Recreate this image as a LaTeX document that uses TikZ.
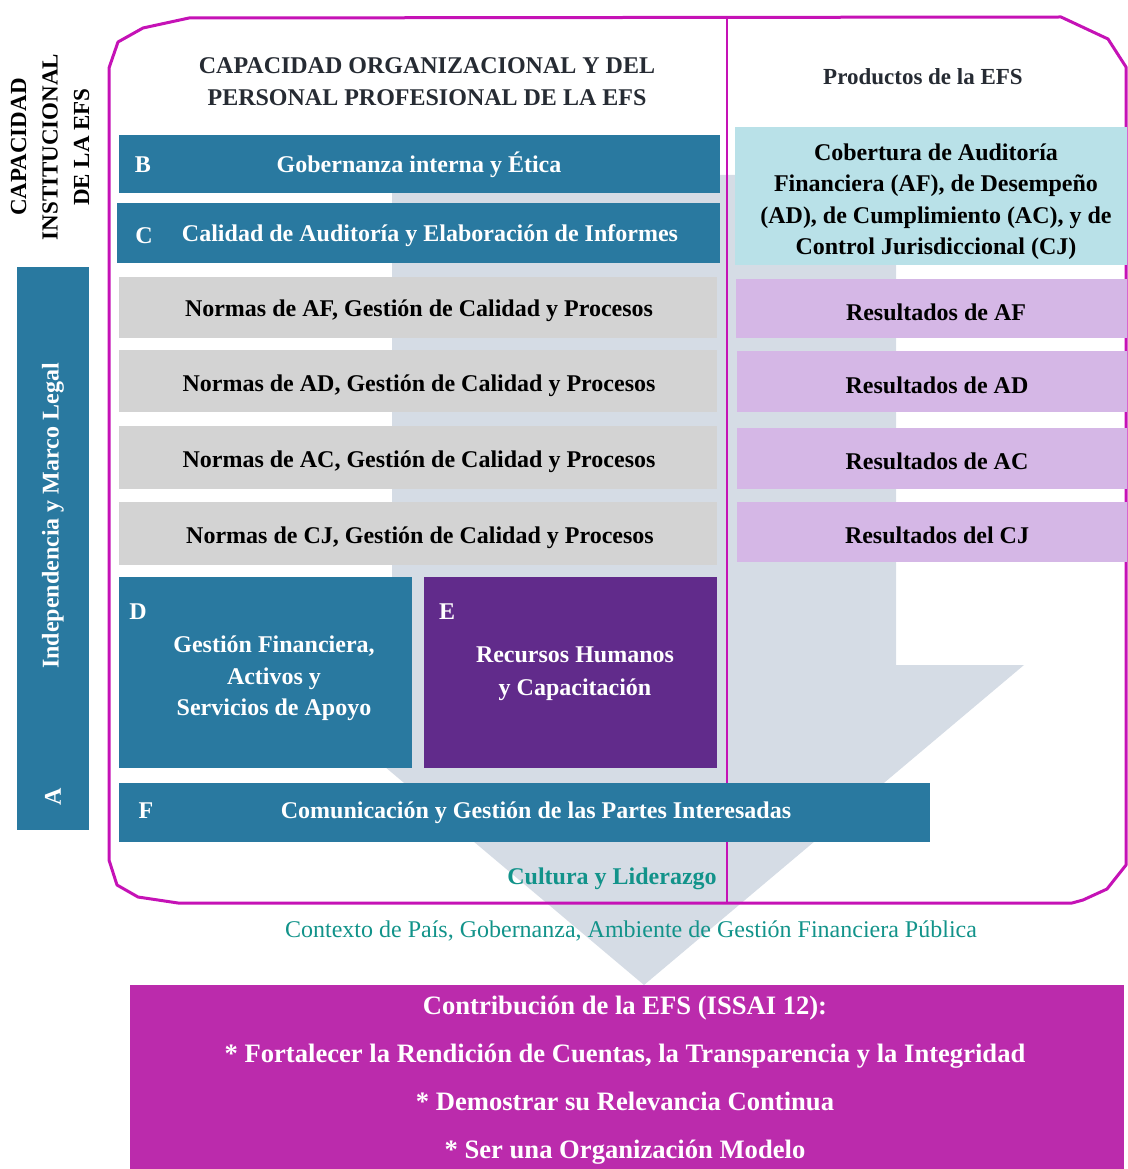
\documentclass[tikz,border=0pt]{standalone}
\usepackage{fontspec}
\setmainfont{Liberation Serif}
\definecolor{tealb}{HTML}{2979A0}
\definecolor{purp}{HTML}{612B8B}
\definecolor{greyb}{HTML}{D3D3D3}
\definecolor{arrowg}{HTML}{D5DCE5}
\definecolor{cyanb}{HTML}{B9E1E8}
\definecolor{lavb}{HTML}{D5B7E6}
\definecolor{magb}{HTML}{BB2BAC}
\definecolor{magline}{HTML}{C512B6}
\definecolor{tealt}{HTML}{12938A}
\definecolor{darkt}{HTML}{262B33}
\begin{document}
\begin{tikzpicture}[x=1pt,y=-1pt,
  box/.style={draw=none, inner sep=0pt, outer sep=0pt, anchor=north west},
  tbox/.style={box, fill=tealb},
  gbox/.style={box, fill=greyb},
  lbox/.style={box, fill=lavb},
  bf/.style={font=\fontsize{24}{31.5}\selectfont\bfseries, inner sep=0pt, align=center},
  hz/.style={yshift=-2.5pt},
  wtxt/.style={bf, hz, text=white},
  rwtxt/.style={bf, text=white, rotate=90},
  ktxt/.style={bf, hz, text=black},
  htxt/.style={bf, text=darkt},
]
\useasboundingbox (0,0) rectangle (1127,1169);
% big arrow
\fill[arrowg] (392,175) -- (896,175) -- (896,665) -- (1024,665) -- (644,985) -- (264,665) -- (392,665) -- cycle;
% outline
\draw[magline, line width=3pt, line join=round] (109,860) -- (109,68) -- (118,42) -- (143,28) -- (189,18) -- (1061,17) -- (1108,39) -- (1126,67) -- (1126,865) -- (1107,889) -- (1083,900) -- (1072,903) -- (178,903) -- (138,897) -- (117,885) -- cycle;
\coordinate (divtop) at (727,18);
\coordinate (divbot) at (727,903);
\draw[magline, line width=2.5pt] (divtop) -- (divbot);
% headers
\node[htxt, yshift=-0.5pt] (hdr) at (427,81) {CAPACIDAD ORGANIZACIONAL Y DEL\\PERSONAL PROFESIONAL DE LA EFS};
\node[htxt, yshift=-1pt, font=\fontsize{23}{30}\selectfont\bfseries] (prod) at (923,76) {Productos de la EFS};
\node[htxt, text=black, rotate=90, font=\fontsize{23}{31.5}\selectfont\bfseries] (cap) at (50,147) {CAPACIDAD\\INSTITUCIONAL\\DE LA EFS};
% A
\node[tbox, minimum width=72pt, minimum height=563pt] (A) at (17,267) {};
\node[rwtxt] (Atxt) at (53,516) {Independencia y Marco Legal};
\node[rwtxt] (Alab) at (53,797) {A};
% B, C
\node[tbox, minimum width=601pt, minimum height=58pt] (B) at (119,135) {};
\node[wtxt] (Blab) at (143,162) {B};
\node[wtxt] (Btxt) at (419,162) {Gobernanza interna y Ética};
\node[tbox, minimum width=603pt, minimum height=60pt] (C) at (117,203) {};
\node[wtxt] (Clab) at (144,233) {C};
\node[wtxt] (Ctxt) at (430,233) {Calidad de Auditoría y Elaboración de Informes};
% grey
\node[gbox, minimum width=598pt, minimum height=61pt] (G1) at (119,277) {};
\node[ktxt] (G1t) at (419,308) {Normas de AF, Gestión de Calidad y Procesos};
\node[gbox, minimum width=598pt, minimum height=62pt] (G2) at (119,350) {};
\node[ktxt] (G2t) at (419,383) {Normas de AD, Gestión de Calidad y Procesos};
\node[gbox, minimum width=598pt, minimum height=63pt] (G3) at (119,426) {};
\node[ktxt] (G3t) at (419,459) {Normas de AC, Gestión de Calidad y Procesos};
\node[gbox, minimum width=598pt, minimum height=63pt] (G4) at (119,502) {};
\node[ktxt] (G4t) at (420,535) {Normas de CJ, Gestión de Calidad y Procesos};
% D, E
\node[tbox, minimum width=293pt, minimum height=191pt] (D) at (119,577) {};
\node[wtxt] (Dlab) at (138,609) {D};
\node[wtxt] (Dtxt) at (274,676) {Gestión Financiera,\\Activos y\\Servicios de Apoyo};
\node[box, fill=purp, minimum width=293pt, minimum height=191pt] (E) at (424,577) {};
\node[wtxt] (Elab) at (447,609) {E};
\node[wtxt, font=\fontsize{24}{33}\selectfont\bfseries] (Etxt) at (575,671) {Recursos Humanos\\y Capacitación};
% F
\node[tbox, minimum width=811pt, minimum height=59pt] (F) at (119,783) {};
\node[wtxt] (Flab) at (146,808) {F};
\node[wtxt] (Ftxt) at (536,810) {Comunicación y Gestión de las Partes Interesadas};
% right column
\node[box, fill=cyanb, minimum width=392pt, minimum height=138pt] (Cob) at (735,127) {};
\node[ktxt] (Cobt) at (936,199) {Cobertura de Auditoría\\Financiera (AF), de Desempeño\\(AD), de Cumplimiento (AC), y de\\Control Jurisdiccional (CJ)};
\node[lbox, minimum width=391pt, minimum height=59pt] (R1) at (736,279) {};
\node[ktxt] (R1t) at (936,310) {Resultados de AF};
\node[lbox, minimum width=390pt, minimum height=61pt] (R2) at (737,351) {};
\node[ktxt] (R2t) at (937,383) {Resultados de AD};
\node[lbox, minimum width=390pt, minimum height=61pt] (R3) at (737,428) {};
\node[ktxt] (R3t) at (937,459) {Resultados de AC};
\node[lbox, minimum width=390pt, minimum height=60pt] (R4) at (737,502) {};
\node[ktxt] (R4t) at (937,533) {Resultados del CJ};
% culture / context
\node[bf, hz, text=tealt] (cult) at (612,876) {Cultura y Liderazgo};
\node[font=\fontsize{24}{30}\selectfont, hz, text=tealt, inner sep=0pt] (ctx) at (631,928) {Contexto de País, Gobernanza, Ambiente de Gestión Financiera Pública};
% bottom
\node[box, fill=magb, minimum width=994pt, minimum height=184pt] (Bot) at (130,985) {};
\node[wtxt, font=\fontsize{26.6}{48}\selectfont\bfseries] (Bott) at (625,1078) {Contribución de la EFS (ISSAI 12):\\* Fortalecer la Rendición de Cuentas, la Transparencia y la Integridad\\* Demostrar su Relevancia Continua\\* Ser una Organización Modelo};
\end{tikzpicture}
\end{document}
